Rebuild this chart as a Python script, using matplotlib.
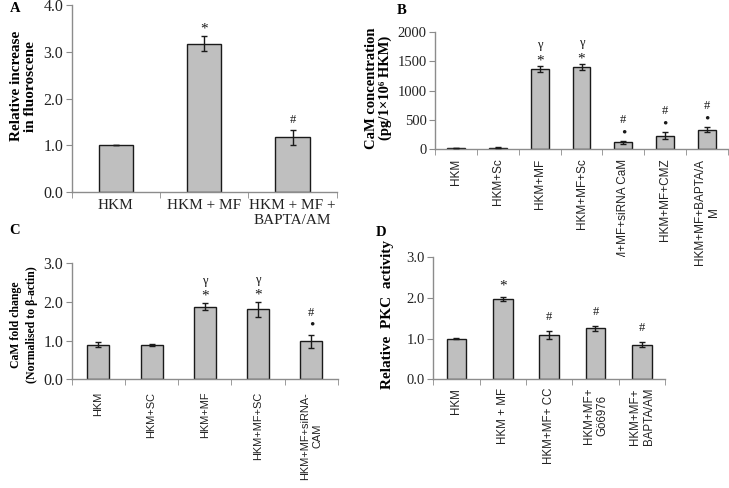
import matplotlib
matplotlib.use('Agg')
import matplotlib.pyplot as plt
import numpy as np

serif = ['Liberation Serif', 'DejaVu Serif']
sans = ['Liberation Sans', 'DejaVu Sans']

"Panel A data"
a_labels = ['HKM', 'HKM + MF', 'HKM + MF +\nBAPTA/AM']
a_vals = [1.0, 3.17, 1.18]
a_err = [0.0, 0.16, 0.16]
a_low = ['', '*', '#']

"Panel B data"
b_labels = ['HKM', 'HKM+Sc', 'HKM+MF', 'HKM+MF+Sc', 'HKM+MF+siRNA CaM',
            'HKM+MF+CMZ', 'HKM+MF+BAPTA/A\nM']
b_vals = [22, 25, 1366, 1400, 114, 229, 331]
b_err = [3, 3, 50, 50, 25, 57, 45]
b_low = ['', '', '*', '*', '\u2022', '\u2022', '\u2022']
b_up = ['', '', '\u03b3', '\u03b3', '#', '#', '#']

"Panel C data"
c_labels = ['HKM', 'HKM+SC', 'HKM+MF', 'HKM+MF+SC', 'HKM+MF+siRNA-\nCAM']
c_vals = [0.89, 0.89, 1.88, 1.81, 0.98]
c_err = [0.065, 0.02, 0.1, 0.2, 0.17]
c_low = ['', '', '*', '*', '\u2022']
c_up = ['', '', '\u03b3', '\u03b3', '#']

"Panel D data"
d_labels = ['HKM', 'HKM + MF', 'HKM+MF+ CC', 'HKM+MF+\nG\u00f66976', 'HKM+MF+\nBAPTA/AM']
d_vals = [1.0, 1.98, 1.10, 1.25, 0.85]
d_err = [0.01, 0.045, 0.1, 0.06, 0.065]
d_low = ['', '*', '#', '#', '#']

grey = '#8c8c8c'


def bar_panel(ax, labels, vals, errs, width, ymax, ystep, yfmt, tick_fs,
              lab_font, lab_fs, lab_rot, lab_pad):
    n = len(vals)
    x = np.arange(n)
    ax.bar(x, vals, width=width, color='#bfbfbf', edgecolor='#1a1a1a', linewidth=1.0, zorder=2)
    ax.errorbar(x, vals, yerr=errs, fmt='none', ecolor='#1a1a1a', elinewidth=1.0,
                capsize=2.3, capthick=1.0, zorder=3)
    ax.set_xlim(-0.5, n - 0.5)
    ax.set_ylim(0, ymax)
    yt = np.arange(0, ymax + ystep / 2, ystep)
    ax.set_yticks(yt)
    ax.set_yticklabels([yfmt.format(v) for v in yt], family=serif, fontsize=tick_fs,
                       color='#222222')
    ax.set_xticks(x)
    ax.set_xticklabels(labels, family=lab_font, fontsize=lab_fs, rotation=lab_rot,
                       color='#222222')
    ax.set_xticks(np.arange(n + 1) - 0.5, minor=True)
    ax.tick_params(axis='x', which='major', length=0, pad=lab_pad)
    ax.tick_params(axis='x', which='minor', length=4, color=grey)
    ax.tick_params(axis='y', length=4, color=grey, pad=2)
    for s in ['top', 'right']:
        ax.spines[s].set_visible(False)
    for s in ['left', 'bottom']:
        ax.spines[s].set_color(grey)
        ax.spines[s].set_linewidth(1.0)


def marks(ax, vals, errs, texts, off, fs=9):
    for i in range(len(vals)):
        t = texts[i]
        if not t:
            continue
        size, dy = fs, 0
        if t == '\u2022':
            size = fs + 2
        if t == '*':
            size, dy = fs + 2, -3
        ax.annotate(t, (i, vals[i] + errs[i]), xytext=(0, off + dy),
                    textcoords='offset pixels', ha='center', va='center',
                    family=serif, fontsize=size, color='#1a1a1a')


fig = plt.figure(figsize=(7.29, 4.88), dpi=100)

"Panel A"
ax1 = fig.add_axes([71.7 / 729, 1 - 192.3 / 488, 265 / 729, 187.3 / 488])
bar_panel(ax1, a_labels, a_vals, a_err, 0.39, 4.0, 1.0, '{:.1f}', 11.5,
          serif, 11, 0, 5)
marks(ax1, a_vals, a_err, a_low, 10)
ax1.set_ylabel('Relative increase\nin fluoroscene', family=serif, fontsize=11,
               fontweight='bold', linespacing=1.1, va='center')
ax1.yaxis.set_label_coords((24 - 71.7) / 265, 0.567)

"Panel B"
ax2 = fig.add_axes([435 / 729, 1 - 149 / 488, 293 / 729, 116.7 / 488])
bar_panel(ax2, b_labels, b_vals, b_err, 0.43, 2000, 500, '{:.0f}', 10.5,
          sans, 8.5, 90, 7)
marks(ax2, b_vals, b_err, b_low, 8)
marks(ax2, b_vals, b_err, b_up, 21)
ax2.set_ylabel('CaM concentration\n(pg/1\u00d710\u2076 HKM)', family=serif, fontsize=10.5,
               fontweight='bold', linespacing=1.05, va='center')
ax2.yaxis.set_label_coords((379 - 435) / 293, 0.52)

"Panel C"
ax3 = fig.add_axes([71.7 / 729, 1 - 379.3 / 488, 266.3 / 729, 116 / 488])
bar_panel(ax3, c_labels, c_vals, c_err, 0.41, 3.0, 1.0, '{:.1f}', 11.5,
          sans, 7.9, 90, 9)
marks(ax3, c_vals, c_err, c_low, 10)
marks(ax3, c_vals, c_err, c_up, 22)
ax3.set_ylabel('CaM fold change\n(Normalised to \u03b2-actin)', family=serif, fontsize=8.5,
               fontweight='bold', linespacing=1.35, va='center')
ax3.yaxis.set_label_coords((24 - 71.7) / 266.3, 0.47)

"Panel D"
ax4 = fig.add_axes([433.3 / 729, 1 - 379.3 / 488, 231.7 / 729, 122 / 488])
bar_panel(ax4, d_labels, d_vals, d_err, 0.42, 3.0, 1.0, '{:.1f}', 10.5,
          sans, 8.3, 90, 6)
marks(ax4, d_vals, d_err, d_low, 14)
ax4.set_ylabel('Relative  PKC  activity', family=serif, fontsize=11, fontweight='bold',
               va='center')
ax4.yaxis.set_label_coords((387 - 433.3) / 231.7, 0.535)

"Panel letters"
for letter, px, py in [('A', 15, 8), ('B', 402, 10), ('C', 15, 230), ('D', 381, 232)]:
    fig.text(px / 729, 1 - py / 488, letter, family=serif, fontsize=10.5,
             fontweight='bold', ha='center', va='center')

plt.savefig('out.png', dpi=100)
